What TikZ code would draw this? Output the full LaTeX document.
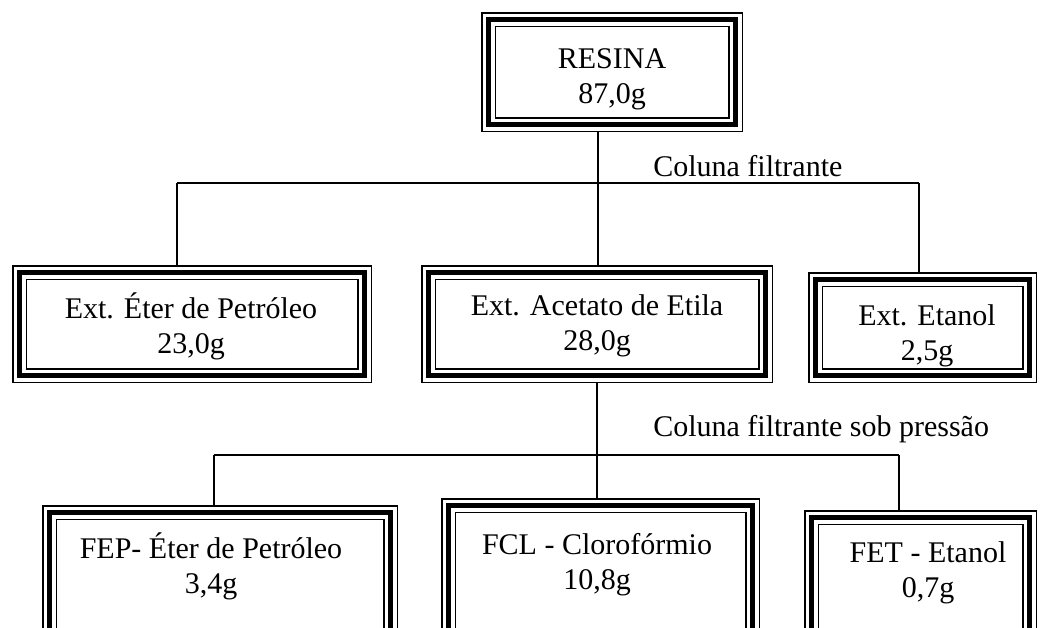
\documentclass[tikz,border=0pt]{standalone}
\usepackage{fontspec}
\setmainfont{Liberation Serif}

\tikzset{
  frame/.style 2 args={draw, fill=white, line width=11.25pt, inner sep=0pt, outer sep=5.625pt,
    minimum width=#1*0.75pt, minimum height=#2*0.75pt,
    postaction={draw=white, line width=9pt},
    postaction={draw, line width=3.75pt}},
  txt/.style={align=center, inner sep=0pt, font=\fontsize{22.5}{26.3}\selectfont},
  link/.style={line width=0.9pt}
}

\begin{document}
\begin{tikzpicture}[x=0.75pt, y=-0.75pt]

    \useasboundingbox (0,0) rectangle (1040,628);
    \clip (0,0) rectangle (1040,628);

    \node [frame={247}{105}] (resina) at (612,72) {};
    \node [txt] (resinaT) at (612,79) {RESINA\\87,0g};

    \node [frame={345}{103}] (eter) at (192,324) {};
    \node [txt] (eterT) at (191,326) {Ext. Éter de Petróleo\\23,0g};

    \node [frame={337}{103}] (acetato) at (597,324) {};
    \node [txt] (acetatoT) at (597,326) {Ext. Acetato de Etila\\28,0g};

    \node [frame={214}{96}] (etanol) at (922.5,327.5) {};
    \node [txt] (etanolT) at (927,336) {Ext. Etanol\\2,5g};

    \node [frame={341}{140}] (fep) at (220,582.5) {};
    \node [txt] (fepT) at (211,566) {FEP- Éter de Petróleo\\3,4g};

    \node [frame={304}{147}] (fcl) at (600.5,579) {};
    \node [txt] (fclT) at (597,565) {FCL - Clorofórmio\\10,8g};

    \node [frame={218}{135}] (fet) at (920.5,585) {};
    \node [txt] (fetT) at (928,573) {FET - Etanol\\0,7g};

    \coordinate (top) at (598,183);
    \coordinate (topL) at (177,183);
    \coordinate (topR) at (919,183);
    \draw [link] (resina.south -| top) -- (top);
    \draw [link] (topL) -- (topR);
    \draw [link] (topL) -- (topL |- eter.north);
    \draw [link] (top) -- (top |- acetato.north);
    \draw [link] (topR) -- (topR |- etanol.north);
    \node [txt, anchor=west] (col1) at (653,166) {Coluna filtrante};

    \coordinate (mid) at (597,455);
    \coordinate (midL) at (214,455);
    \coordinate (midR) at (899,455);
    \draw [link] (acetato.south) -- (mid);
    \draw [link] (midL) -- (midR);
    \draw [link] (midL) -- (midL |- fep.north);
    \draw [link] (mid) -- (mid |- fcl.north);
    \draw [link] (midR) -- (midR |- fet.north);
    \node [txt, anchor=west] (col2) at (653,429) {Coluna filtrante sob pressão};

\end{tikzpicture}
\end{document}
